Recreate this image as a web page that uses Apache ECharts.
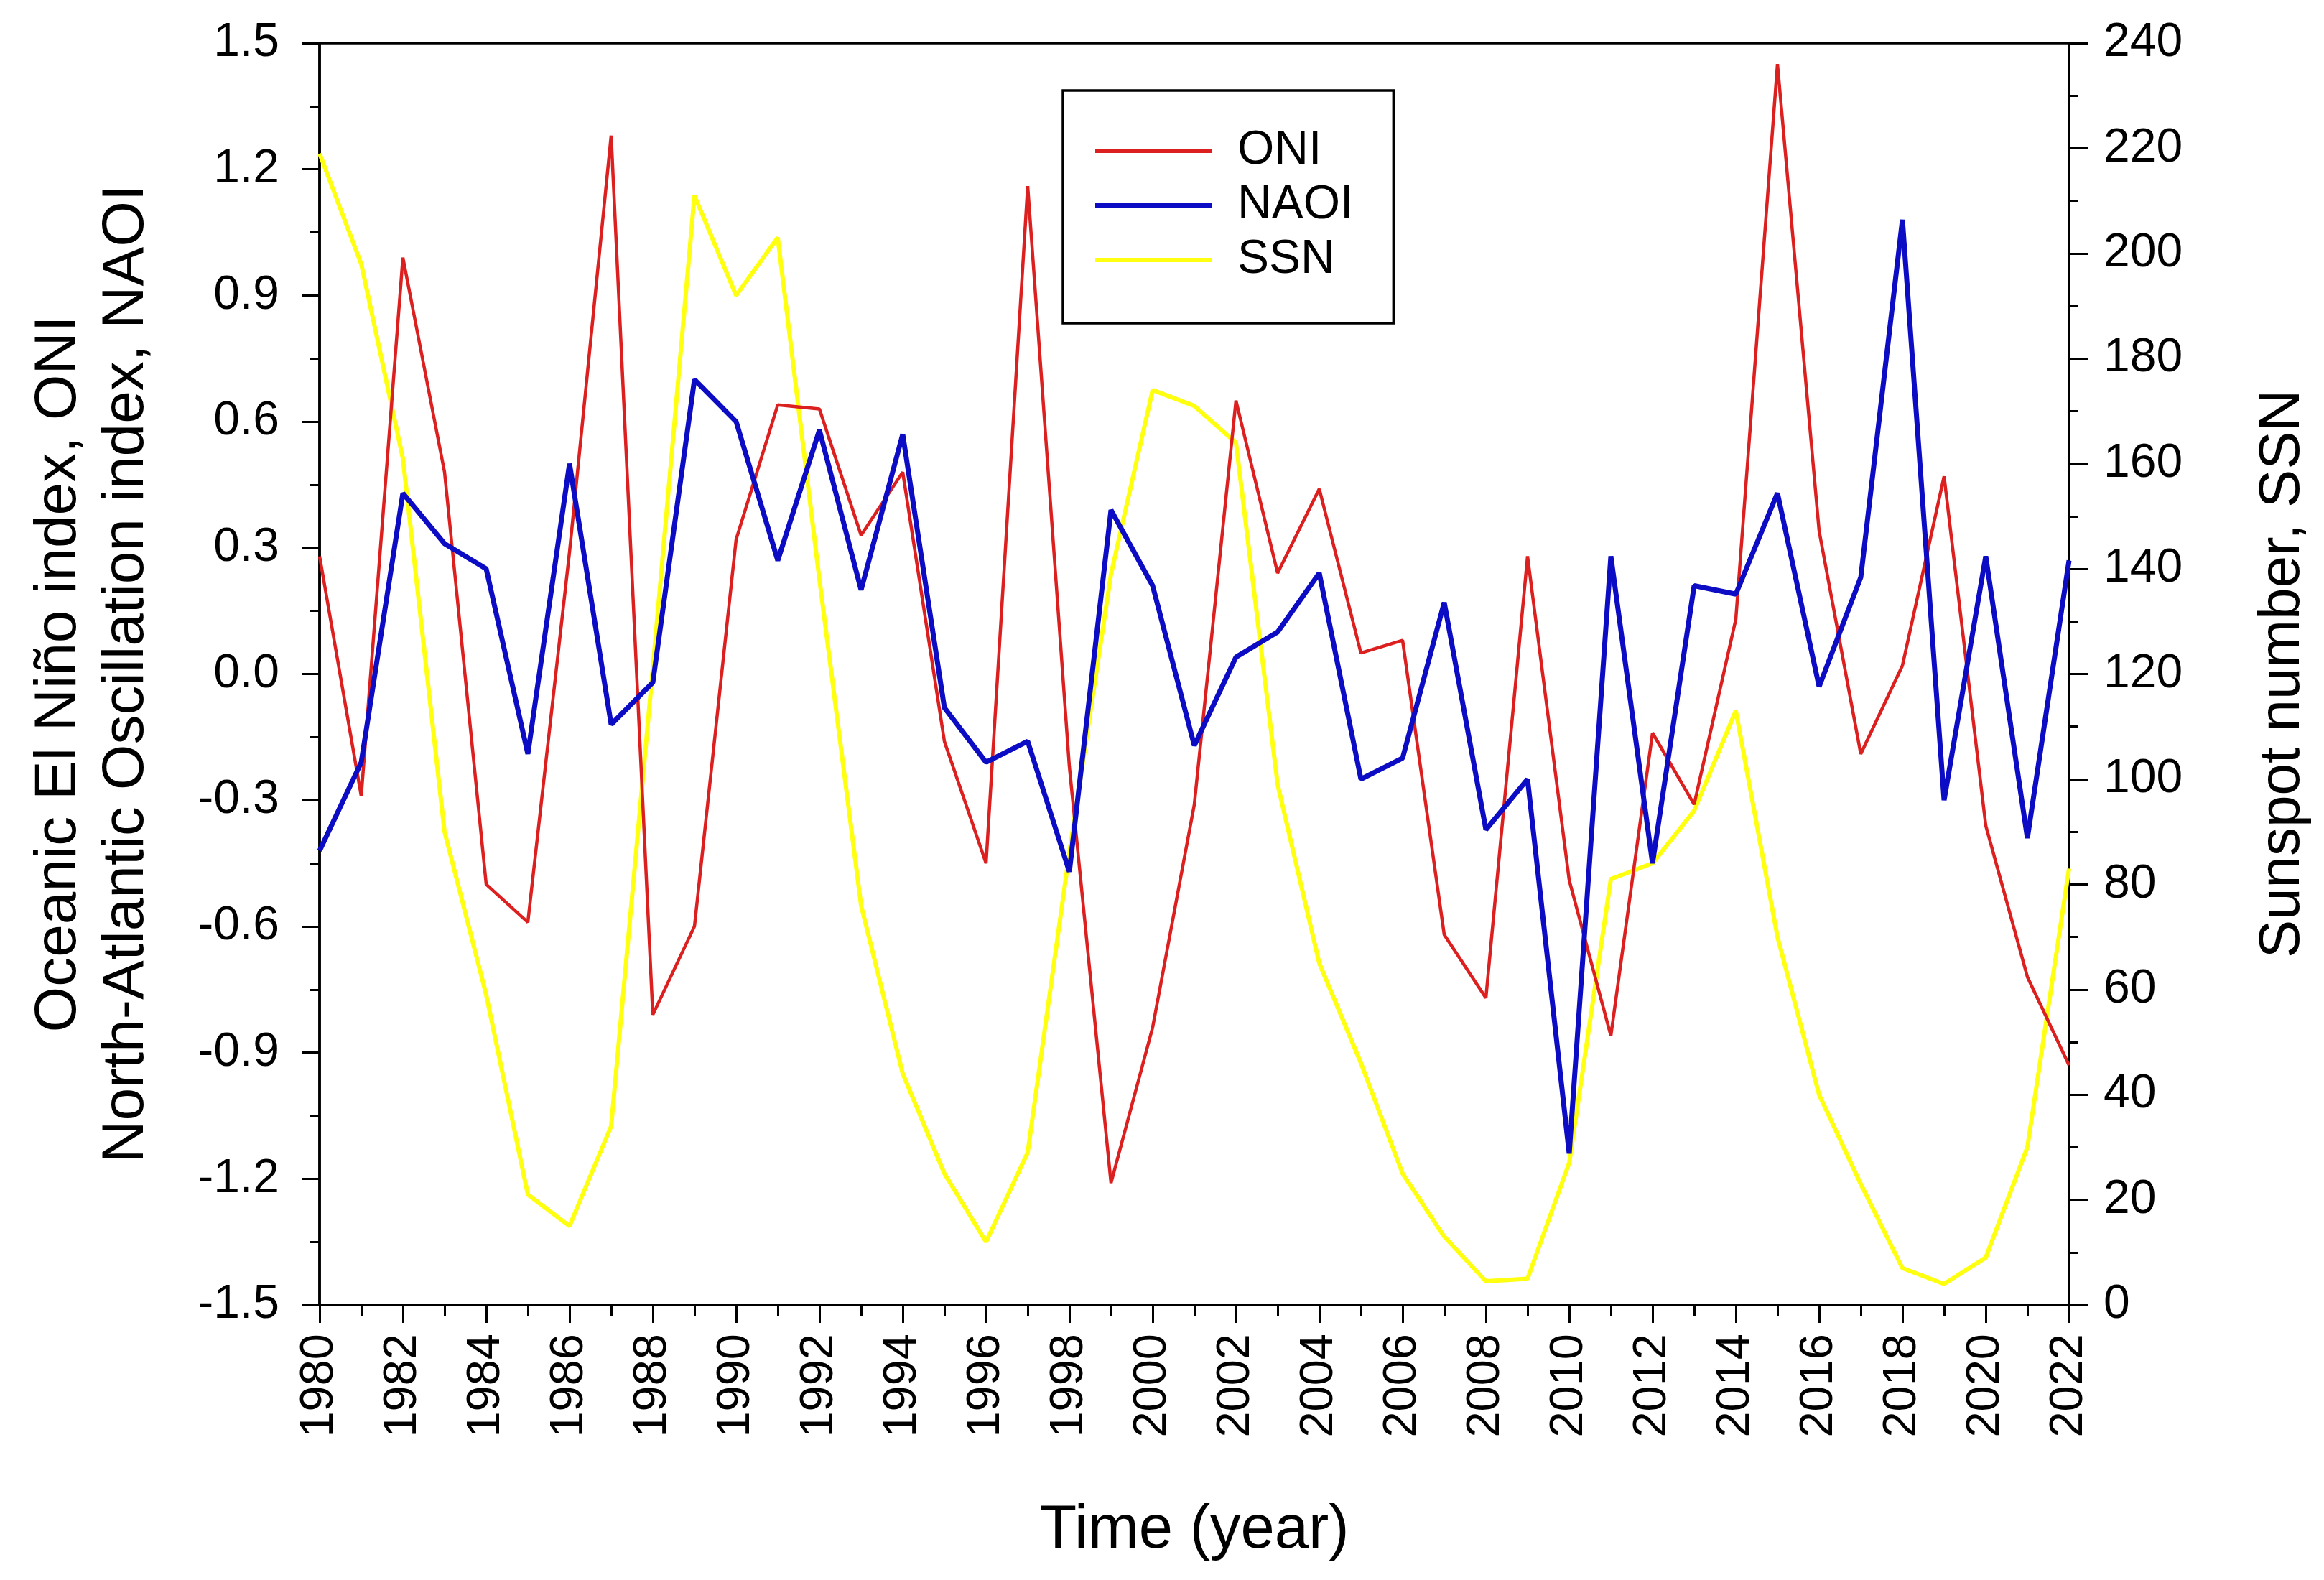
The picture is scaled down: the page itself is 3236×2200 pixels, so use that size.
<!DOCTYPE html>
<html>
<head>
<meta charset="utf-8">
<script src="https://cdn.jsdelivr.net/npm/echarts@6/dist/echarts.min.js"></script>
<style>
html,body{margin:0;padding:0;background:#fff;}
#chart{width:3236px;height:2200px;}
</style>
</head>
<body>
<div id="chart"></div>
<script>
const years = [1980,1981,1982,1983,1984,1985,1986,1987,1988,1989,1990,1991,1992,1993,1994,1995,1996,1997,1998,1999,2000,2001,2002,2003,2004,2005,2006,2007,2008,2009,2010,2011,2012,2013,2014,2015,2016,2017,2018,2019,2020,2021,2022];
const oni = [0.28,-0.29,0.99,0.48,-0.50,-0.59,0.29,1.28,-0.81,-0.60,0.32,0.64,0.63,0.33,0.48,-0.16,-0.45,1.16,-0.22,-1.21,-0.84,-0.31,0.65,0.24,0.44,0.05,0.08,-0.62,-0.77,0.28,-0.49,-0.86,-0.14,-0.31,0.13,1.45,0.34,-0.19,0.02,0.47,-0.36,-0.72,-0.93];
const naoi = [-0.42,-0.21,0.43,0.31,0.25,-0.19,0.50,-0.12,-0.02,0.70,0.60,0.27,0.58,0.20,0.57,-0.08,-0.21,-0.16,-0.47,0.39,0.21,-0.17,0.04,0.10,0.24,-0.25,-0.20,0.17,-0.37,-0.25,-1.14,0.28,-0.45,0.21,0.19,0.43,-0.03,0.23,1.08,-0.30,0.28,-0.39,0.27];
const ssn = [219,198,161,90,59,21,15,34,121,211,192,203,138,76,44,25,12,29,86,139,174,171,164,99,65,46,25,13,4.5,5,27,81,84,94,113,70,40,23,7,4,9,30,83];
const seriesNames = ['ONI','NAOI','SSN'];
const xTitle = 'Time (year)';
const yLeftTitle = 'Oceanic El Niño index, ONI\nNorth-Atlantic Oscillation index, NAOI';
const yRightTitle = 'Sunspot number, SSN';

const FONT = '"Liberation Sans", Arial, Helvetica, sans-serif';
const pair = arr => years.map((y, i) => [y, arr[i]]);

const chart = echarts.init(document.getElementById('chart'), null, {renderer: 'canvas'});
const axisLineStyle = {color: '#000', width: 3.5};
chart.setOption({
  animation: false,
  backgroundColor: '#fff',
  textStyle: {fontFamily: FONT},
  grid: {left: 445, right: 355, top: 60, bottom: 383, show: true, borderColor: '#000', borderWidth: 3.5, backgroundColor: 'transparent'},
  legend: {
    orient: 'vertical', left: 1480, top: 126,
    padding: [49, 56, 53, 45],
    icon: 'rect',
    itemWidth: 163, itemHeight: 6, itemGap: 6,
    itemStyle: {borderWidth: 0},
    borderColor: '#000', borderWidth: 3.5,
    backgroundColor: '#fff',
    data: seriesNames,
    textStyle: {fontSize: 66, lineHeight: 70, color: '#000', fontFamily: FONT, padding: [0, 0, 0, 30]}
  },
  xAxis: {
    type: 'value', min: 1980, max: 2022, interval: 2,
    name: xTitle, nameLocation: 'middle', nameGap: 272,
    nameTextStyle: {fontSize: 85, color: '#000', fontFamily: FONT},
    axisLine: {show: true, onZero: false, lineStyle: axisLineStyle},
    axisTick: {show: true, inside: false, length: 25, lineStyle: {color: '#000', width: 3}},
    minorTick: {show: true, splitNumber: 2, length: 15, lineStyle: {color: '#000', width: 3}},
    splitLine: {show: false},
    axisLabel: {rotate: 90, fontSize: 65, color: '#000', margin: 40, fontFamily: FONT, formatter: v => String(Math.round(v))}
  },
  yAxis: [
    {
      type: 'value', position: 'left', min: -1.5, max: 1.5, interval: 0.3,
      name: yLeftTitle, nameLocation: 'middle', nameGap: 222, nameRotate: 90,
      nameTextStyle: {fontSize: 82, color: '#000', fontFamily: FONT, lineHeight: 94, align: 'center'},
      axisLine: {show: true, onZero: false, lineStyle: axisLineStyle},
      axisTick: {show: true, inside: false, length: 25, lineStyle: {color: '#000', width: 3}},
      minorTick: {show: true, splitNumber: 2, length: 14, lineStyle: {color: '#000', width: 3}},
      splitLine: {show: false},
      axisLabel: {fontSize: 66, color: '#000', margin: 56, fontFamily: FONT, formatter: v => (Math.round(v * 10) / 10).toFixed(1)}
    },
    {
      type: 'value', position: 'right', min: 0, max: 240, interval: 20,
      name: yRightTitle, nameLocation: 'middle', nameGap: 258, nameRotate: 90,
      nameTextStyle: {fontSize: 80, color: '#000', fontFamily: FONT},
      axisLine: {show: true, onZero: false, lineStyle: axisLineStyle},
      axisTick: {show: true, inside: false, length: 27, lineStyle: {color: '#000', width: 3}},
      minorTick: {show: true, splitNumber: 2, length: 13, lineStyle: {color: '#000', width: 3}},
      splitLine: {show: false},
      axisLabel: {fontSize: 66, color: '#000', margin: 48, fontFamily: FONT}
    }
  ],
  series: [
    {name: seriesNames[0], type: 'line', yAxisIndex: 0, data: pair(oni), symbol: 'none', z: 3,
     lineStyle: {color: '#dc1f1f', width: 4.5}, itemStyle: {color: '#dc1f1f'}},
    {name: seriesNames[1], type: 'line', yAxisIndex: 0, data: pair(naoi), symbol: 'none', z: 4,
     lineStyle: {color: '#0c0cc4', width: 7}, itemStyle: {color: '#0c0cc4'}},
    {name: seriesNames[2], type: 'line', yAxisIndex: 1, data: pair(ssn), symbol: 'none', z: 2,
     lineStyle: {color: '#ffff10', width: 6}, itemStyle: {color: '#ffff10'}}
  ]
});
</script>
</body>
</html>
